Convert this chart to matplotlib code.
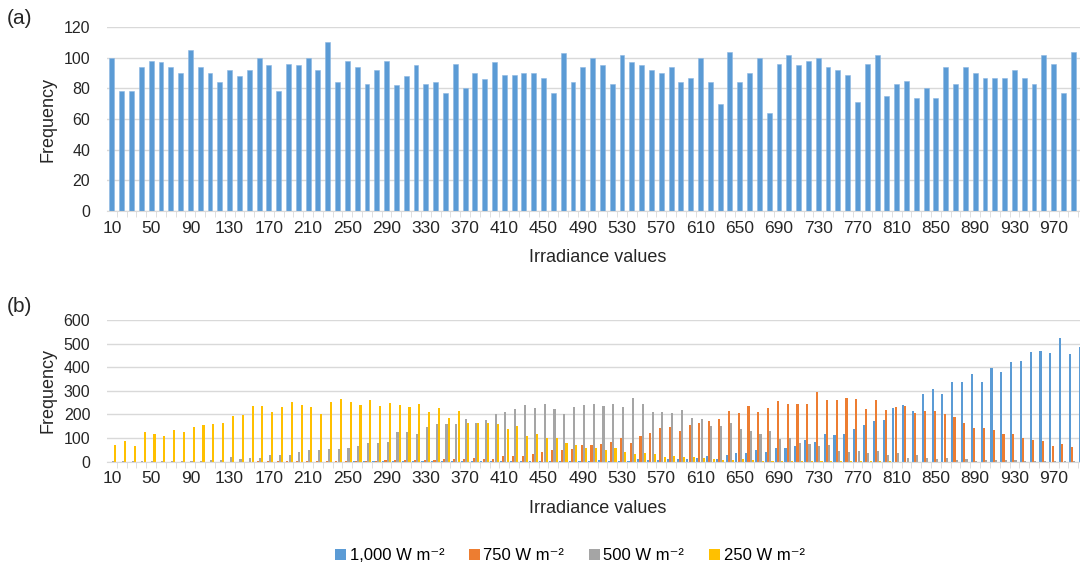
import matplotlib
matplotlib.use("Agg")
import matplotlib.pyplot as plt
import numpy as np

plt.rcParams['font.family'] = ['Liberation Sans', 'DejaVu Sans']

irradiance = list(range(10, 1001, 10))

# panel (a)
freq_a = [100, 78, 78, 94, 98, 97, 94, 90, 105, 94, 90, 84, 92, 88, 92, 100,
          95, 78, 96, 95, 100, 92, 110, 84, 98, 94, 83, 92, 98, 82, 88, 95,
          83, 84, 77, 96, 80, 90, 86, 97, 89, 89, 90, 90, 87, 77, 103, 84,
          94, 100, 95, 83, 102, 97, 95, 92, 90, 94, 84, 87, 100, 84, 70, 104,
          84, 90, 100,
          64, 96, 102, 95, 98, 100, 94, 92, 89, 71, 96, 102, 75, 83, 85, 74,
          80, 74, 94, 83, 94, 90, 87, 87, 87, 92, 87, 83, 102, 96, 77, 104,
          95]

# panel (b)
freq_1000 = [0] * 25 + [1] * 15 + [2] * 10 + \
    [6, 3, 5, 4, 11, 6, 7, 11, 10, 10, 16, 24, 13, 28, 35, 35, 49, 41, 58, 58,
     68, 92, 82, 116, 113, 116, 140, 155, 172, 177, 226, 242, 215, 285, 309,
     288, 336, 336, 371, 338, 398, 380, 421, 428, 465, 470, 462, 523, 455, 486]
freq_750 = [0] * 15 + \
    [1, 1, 2, 2, 2, 3, 3, 3, 4, 4, 5, 5, 5, 6, 6, 7, 8,
     7, 7, 13, 11, 10, 16, 13, 13, 25, 24, 25, 34, 40, 48, 48, 55, 69, 72, 73,
     85, 100, 79, 107, 121, 143, 147, 130, 155, 162, 171, 179, 216, 206, 237,
     209,
     229, 256, 246, 243, 243, 294, 263, 260, 271, 264, 222, 263, 218, 233, 236,
     205, 213, 215, 202, 188, 162, 141, 143, 134, 117, 116, 100, 92, 88, 68,
     73, 62, 60]
freq_500 = [3, 3, 2, 3, 2, 3, 4, 4, 5, 5, 6, 6,
            20, 13, 17, 16, 27, 28, 30, 40, 49, 49, 54, 54, 58, 65, 79, 79, 85,
            126, 126, 116, 147,
            160, 160, 160, 179, 164, 178, 200, 209, 222, 239, 226, 243, 222,
            203, 232, 242, 246, 236, 246, 233, 271, 243, 212, 210, 205, 218,
            184, 179, 152, 150, 164, 137, 128,
            119, 128, 95, 102, 78, 73, 65, 69, 47, 42, 44, 35, 44, 30, 37, 16,
            27, 16, 10, 14, 8, 10, 4, 8, 6, 6, 6, 3, 4, 3, 1, 1, 1, 1]
freq_250 = [71, 89, 68, 124, 116, 107, 134, 124, 147, 155, 160, 165, 195, 199,
            236, 234, 209, 232, 253, 240, 230, 200, 251, 267, 254, 242, 260,
            236, 250, 240, 230, 244, 209,
            226, 185, 216, 164, 164, 162, 158, 140, 151, 109, 116, 99, 100, 79,
            69, 56, 58, 49, 56, 42, 31, 35, 34, 18, 24, 18, 18, 14, 13, 6, 8,
            13, 6,
            5, 5, 4, 3, 3, 3, 2, 2, 2, 2, 1, 1, 1, 1] + [0] * 20

series_b = [("1,000 W m\u207b\u00b2", freq_1000, "#5B9BD5"),
            ("750 W m\u207b\u00b2", freq_750, "#ED7D31"),
            ("500 W m\u207b\u00b2", freq_500, "#A5A5A5"),
            ("250 W m\u207b\u00b2", freq_250, "#FFC000")]

W, H = 1080, 572
fig = plt.figure(figsize=(W / 100, H / 100), dpi=100)

grid_c = "#d9d9d9"
txt_c = '#262626'


def style(ax, ymax, ystep):
    x = np.arange(len(irradiance))
    ax.set_xlim(-0.5, len(irradiance) - 0.5)
    ax.set_ylim(0, ymax)
    ax.set_yticks(np.arange(0, ymax + 1, ystep))
    ax.set_xticks(x[::4])
    ax.set_xticklabels([str(v) for v in irradiance[::4]], fontsize=12.5)
    ax.set_xticks(x[:-1] + 0.5, minor=True)
    ax.tick_params(axis='x', which='major', length=0, pad=7, colors=txt_c)
    ax.tick_params(axis='x', which='minor', length=4, color=grid_c)
    ax.tick_params(axis='y', length=0, pad=12, labelsize=11.5, colors=txt_c)
    for s in ['top', 'right', 'left']:
        ax.spines[s].set_visible(False)
    ax.spines['bottom'].set_color(grid_c)
    ax.grid(axis='y', color=grid_c, lw=1)
    ax.set_axisbelow(True)
    ax.set_ylabel("Frequency", fontsize=13, color=txt_c)
    ax.set_xlabel("Irradiance values", fontsize=13, color=txt_c)


# (a)
ax1 = fig.add_axes([107 / W, 1 - 211 / H, 981 / W, 184 / H])
x = np.arange(len(irradiance))
ax1.bar(x, freq_a, width=0.5, color="#5B9BD5", edgecolor="#8db8e3", lw=0.4)
style(ax1, 120, 20)
ax1.yaxis.set_label_coords(-0.051, 0.5)
ax1.xaxis.set_label_coords(0.5, -0.25)
ax1.xaxis.label.set_va('center')

# (b)
ax2 = fig.add_axes([107 / W, 1 - 461.7 / H, 981 / W, 141.7 / H])
for k, (name, vals, col) in enumerate(series_b):
    ax2.bar(x + (k - 1.5) * 0.225, vals, width=0.215, color=col, label=name,
            lw=0)
style(ax2, 600, 100)
ax2.yaxis.set_label_coords(-0.051, 0.5)
ax2.xaxis.set_label_coords(0.5, -0.327)
ax2.xaxis.label.set_va('center')

fig.text(7 / W, 1 - 18 / H, "(a)", fontsize=15, va='center', color=txt_c)
fig.text(7 / W, 1 - 306 / H, "(b)", fontsize=15, va='center', color=txt_c)

handles, labels = ax2.get_legend_handles_labels()
fig.legend(handles, labels, loc='center', bbox_to_anchor=(570 / W, 1 - 556 / H),
           ncol=4, frameon=False, fontsize=12, handlelength=0.65,
           handleheight=0.65, handletextpad=0.2, columnspacing=1.5)

fig.savefig("out.png", dpi=100)
